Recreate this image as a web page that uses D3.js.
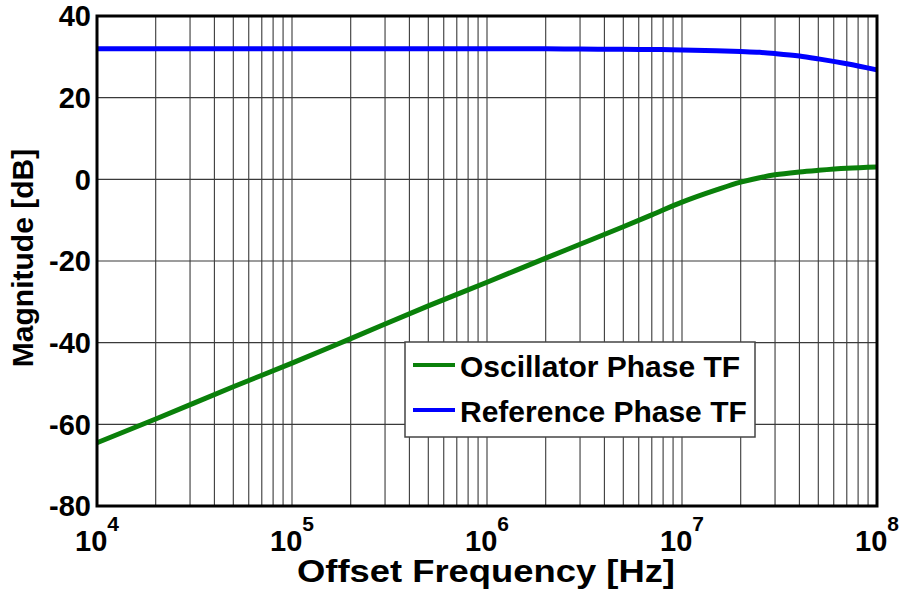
<!DOCTYPE html>
<html>
<head>
<meta charset="utf-8">
<script src="https://cdn.jsdelivr.net/npm/d3@7"></script>
<style>
  html, body { margin: 0; padding: 0; background: #fff; }
  svg { display: block; font-family: "Liberation Sans", Arial, sans-serif; font-weight: bold; }
</style>
</head>
<body>
<svg id="chart" width="899" height="600"></svg>
<script>
// ---- data ----
const freqs = [1e4, 2e4, 5e4, 1e5, 2e5, 5e5, 1e6, 2e6, 3e6, 5e6, 7e6, 1e7, 1.5e7, 2e7, 2.5e7, 3e7, 4e7, 5e7, 7e7, 1e8];
const oscillatorTF = [-64.5, -58.7, -50.8, -45, -39, -31, -25.2, -19.3, -15.9, -11.6, -8.7, -5.6, -2.6, -0.7, 0.4, 1.1, 1.8, 2.2, 2.7, 3.0];
const referenceTF = [32, 32, 32, 32, 32, 32, 32, 31.95, 31.9, 31.85, 31.8, 31.7, 31.5, 31.3, 31.1, 30.8, 30.2, 29.5, 28.3, 26.8];
const seriesNames = ["Oscillator Phase TF", "Reference Phase TF"];
const yTicks = [-80, -60, -40, -20, 0, 20, 40];
const xDecades = [4, 5, 6, 7, 8];
const xLabel = "Offset Frequency [Hz]";
const yLabel = "Magnitude [dB]";

const colors = ["#0a800a", "#0000ff"];

const svg = d3.select("#chart");
const L = 97, R = 877, T = 16, B = 506;

const x = d3.scaleLog().domain([1e4, 1e8]).range([L, R]);
const y = d3.scaleLinear().domain([-80, 40]).range([B, T]);

// grid: vertical major + minor
const minor = [];
for (let d = 4; d < 8; d++) for (let m = 1; m <= 9; m++) minor.push(m * Math.pow(10, d));
minor.push(1e8);
svg.append("g").selectAll("line").data(minor).join("line")
  .attr("x1", d => x(d)).attr("x2", d => x(d))
  .attr("y1", T).attr("y2", B)
  .attr("stroke", "#3a3a3a").attr("stroke-width", 1.1);

svg.append("g").selectAll("line").data(yTicks).join("line")
  .attr("x1", L).attr("x2", R)
  .attr("y1", d => y(d)).attr("y2", d => y(d))
  .attr("stroke", "#3a3a3a").attr("stroke-width", 1.1);

// curves
const line = d3.line().x(d => x(d[0])).y(d => y(d[1])).curve(d3.curveMonotoneX);
[oscillatorTF, referenceTF].forEach((vals, i) => {
  svg.append("path")
    .datum(freqs.map((f, j) => [f, vals[j]]))
    .attr("d", line)
    .attr("fill", "none")
    .attr("stroke", colors[i])
    .attr("stroke-width", 5)
    .attr("stroke-linejoin", "round");
});

// frame
svg.append("rect").attr("x", L).attr("y", T).attr("width", R - L).attr("height", B - T)
  .attr("fill", "none").attr("stroke", "#000").attr("stroke-width", 3);

// y tick labels
svg.append("g").selectAll("text").data(yTicks).join("text")
  .attr("x", 91).attr("y", d => y(d))
  .attr("dy", "0.36em")
  .attr("text-anchor", "end")
  .attr("font-size", 29)
  .text(d => d);

// x tick labels 10^n
const xl = svg.append("g").selectAll("text").data(xDecades).join("text")
  .attr("x", d => x(Math.pow(10, d)))
  .attr("y", 551)
  .attr("text-anchor", "middle")
  .attr("font-size", 29);
xl.append("tspan").text("10");
xl.append("tspan").attr("dy", -20).attr("font-size", 21).text(d => d);

// axis titles
svg.append("text").attr("x", 486).attr("y", 582)
  .attr("text-anchor", "middle").attr("font-size", 31)
  .attr("textLength", 378).attr("lengthAdjust", "spacingAndGlyphs")
  .text(xLabel);
svg.append("text")
  .attr("transform", "translate(33,258) rotate(-90)")
  .attr("text-anchor", "middle").attr("font-size", 30)
  .text(yLabel);

// legend
const lg = svg.append("g");
lg.append("rect").attr("x", 405).attr("y", 342).attr("width", 350).attr("height", 95)
  .attr("fill", "#fff").attr("stroke", "#444").attr("stroke-width", 1.5);
seriesNames.forEach((name, i) => {
  const cy = 365 + i * 45;
  lg.append("line").attr("x1", 413).attr("x2", 455).attr("y1", cy).attr("y2", cy)
    .attr("stroke", colors[i]).attr("stroke-width", 4);
  lg.append("text").attr("x", 460).attr("y", cy + 12).attr("font-size", 30).text(name);
});
</script>
</body>
</html>
